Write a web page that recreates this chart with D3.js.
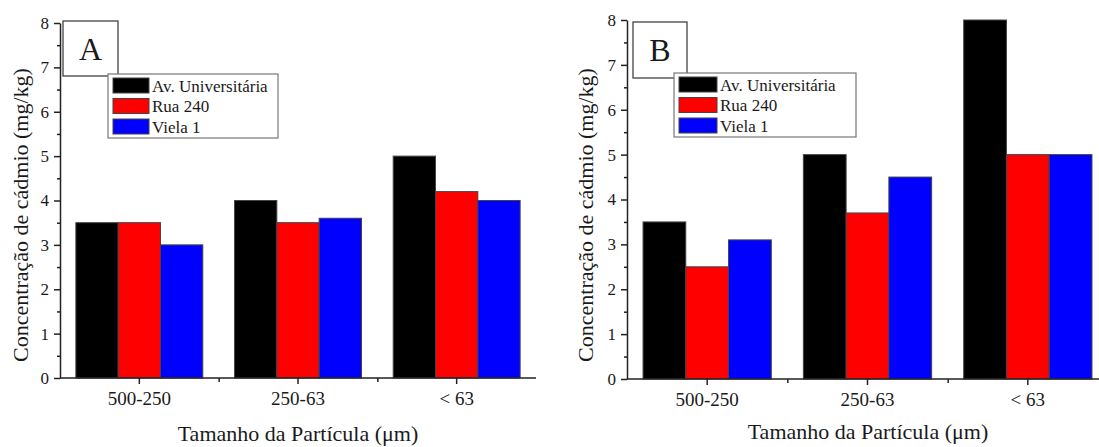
<!DOCTYPE html>
<html>
<head>
<meta charset="utf-8">
<script src="https://cdn.jsdelivr.net/npm/d3@7"></script>
<style>
  body { margin: 0; background: #fff; }
  svg text { font-family: 'Liberation Serif', 'Times New Roman', serif !important; fill: #1a1a1a; }
</style>
</head>
<body>
<script>
// --- data ---
var categories = ["500-250", "250-63", "< 63"];
var seriesNames = ["Av. Universitária", "Rua 240", "Viela 1"];
var seriesColors = ["#000000", "#ff0000", "#0000ff"];
var yTicks = [0, 1, 2, 3, 4, 5, 6, 7, 8];

// panel A
var avA = [3.5, 4.0, 5.0];
var ruaA = [3.5, 3.5, 4.2];
var vielaA = [3.0, 3.6, 4.0];

// panel B
var avB = [3.5, 5.0, 8.0];
var ruaB = [2.5, 3.7, 5.0];
var vielaB = [3.1, 4.5, 5.0];

var SERIF = "'Liberation Serif', 'Times New Roman', serif";
var W = 1099, H = 447;
var svg = d3.select("body").append("svg")
  .attr("width", W).attr("height", H)
  .attr("font-family", SERIF);

function drawPanel(opt) {
  var g = svg.append("g");
  var x = d3.scaleBand().domain(categories).range([opt.x0, opt.x1]).paddingInner(0.2).paddingOuter(0.1);
  var xs = d3.scaleBand().domain(seriesNames).range([0, x.bandwidth()]);
  var y = d3.scaleLinear().domain([0, 8]).range([opt.yb, opt.yt]);

  var rows = [];
  categories.forEach(function(c, i) {
    opt.series.forEach(function(vals, s) {
      rows.push({cat: c, s: s, v: vals[i]});
    });
  });

  // bars
  g.selectAll("rect.bar").data(rows).enter().append("rect")
    .attr("class", "bar")
    .attr("x", function(d) { return x(d.cat) + xs(seriesNames[d.s]); })
    .attr("width", xs.bandwidth())
    .attr("y", function(d) { return y(d.v); })
    .attr("height", function(d) { return y(0) - y(d.v); })
    .attr("fill", function(d) { return seriesColors[d.s]; })
    .attr("stroke", "#444").attr("stroke-width", 1);

  // y axis: major + minor ticks
  var yMinor = g.append("g").attr("transform", "translate(" + opt.x0 + ",0)")
    .call(d3.axisLeft(y).tickValues(d3.range(0.5, 8, 1)).tickSize(3).tickFormat("").tickSizeOuter(0));
  yMinor.select(".domain").remove();
  var yAx = g.append("g").attr("transform", "translate(" + opt.x0 + ",0)")
    .call(d3.axisLeft(y).tickValues(yTicks).tickSize(6).tickSizeOuter(0).tickPadding(5));
  yAx.attr("font-family", SERIF).attr("font-size", 17);

  // x axis: boundary minor ticks + centered major ticks
  var xLin = d3.scaleLinear().domain([0, 3]).range([opt.x0, opt.x1]);
  var xMinor = g.append("g").attr("transform", "translate(0," + opt.yb + ")")
    .call(d3.axisBottom(xLin).tickValues([1, 2]).tickSize(4).tickFormat("").tickSizeOuter(0));
  xMinor.select(".domain").remove();
  var xAx = g.append("g").attr("transform", "translate(0," + opt.yb + ")")
    .call(d3.axisBottom(x).tickSize(6).tickSizeOuter(0).tickPadding(8));
  xAx.select(".domain").attr("d", "M" + opt.x0 + ",0H" + opt.x1);
  xAx.attr("font-family", SERIF).attr("font-size", 19);

  g.selectAll(".domain, .tick line").attr("stroke", "#222").attr("stroke-width", 1.5);
  g.selectAll(".tick text").attr("fill", "#1a1a1a");

  // axis titles
  g.append("text")
    .attr("transform", "translate(" + opt.ytx + "," + opt.yty + ") rotate(-90)")
    .attr("text-anchor", "middle").attr("dy", "0.35em")
    .attr("font-size", 22)
    .text("Concentração de cádmio (mg/kg)");
  g.append("text")
    .attr("x", opt.xtx).attr("y", opt.xty)
    .attr("text-anchor", "middle")
    .attr("font-size", 22)
    .text("Tamanho da Partícula (μm)");

  // panel letter box
  g.append("rect").attr("x", opt.box[0]).attr("y", opt.box[1])
    .attr("width", opt.box[2]).attr("height", opt.box[3])
    .attr("fill", "#fff").attr("stroke", "#333").attr("stroke-width", 1.2);
  g.append("text")
    .attr("x", opt.box[0] + opt.box[2] / 2).attr("y", opt.box[1] + opt.box[3] / 2)
    .attr("text-anchor", "middle").attr("dy", "0.35em")
    .attr("font-size", 32)
    .text(opt.letter);

  // legend
  var lg = g.append("g").attr("transform", "translate(" + opt.leg[0] + "," + opt.leg[1] + ")");
  lg.append("rect").attr("width", opt.leg[2]).attr("height", 64)
    .attr("fill", "#fff").attr("stroke", "#777").attr("stroke-width", 1.2);
  var items = lg.selectAll("g.item").data(seriesNames).enter().append("g")
    .attr("transform", function(d, i) { return "translate(5," + (4 + i * 20.5) + ")"; });
  items.append("rect").attr("width", opt.sw).attr("height", 15)
    .attr("fill", function(d, i) { return seriesColors[i]; })
    .attr("stroke", "#444").attr("stroke-width", 1);
  items.append("text").attr("x", opt.sw + 3).attr("y", 8).attr("dy", "0.35em")
    .attr("font-size", 17)
    .text(function(d) { return d; });
}

drawPanel({
  series: [avA, ruaA, vielaA], letter: "A",
  x0: 60, x1: 536, yt: 23, yb: 378,
  ytx: 20, yty: 215, xtx: 298, xty: 441,
  box: [63, 21, 55, 55], leg: [108, 74, 170], sw: 36
});
drawPanel({
  series: [avB, ruaB, vielaB], letter: "B",
  x0: 627, x1: 1108, yt: 20, yb: 379,
  ytx: 585, yty: 215, xtx: 868, xty: 439,
  box: [633, 22, 54, 56], leg: [674, 73, 182], sw: 38
});
</script>
</body>
</html>
